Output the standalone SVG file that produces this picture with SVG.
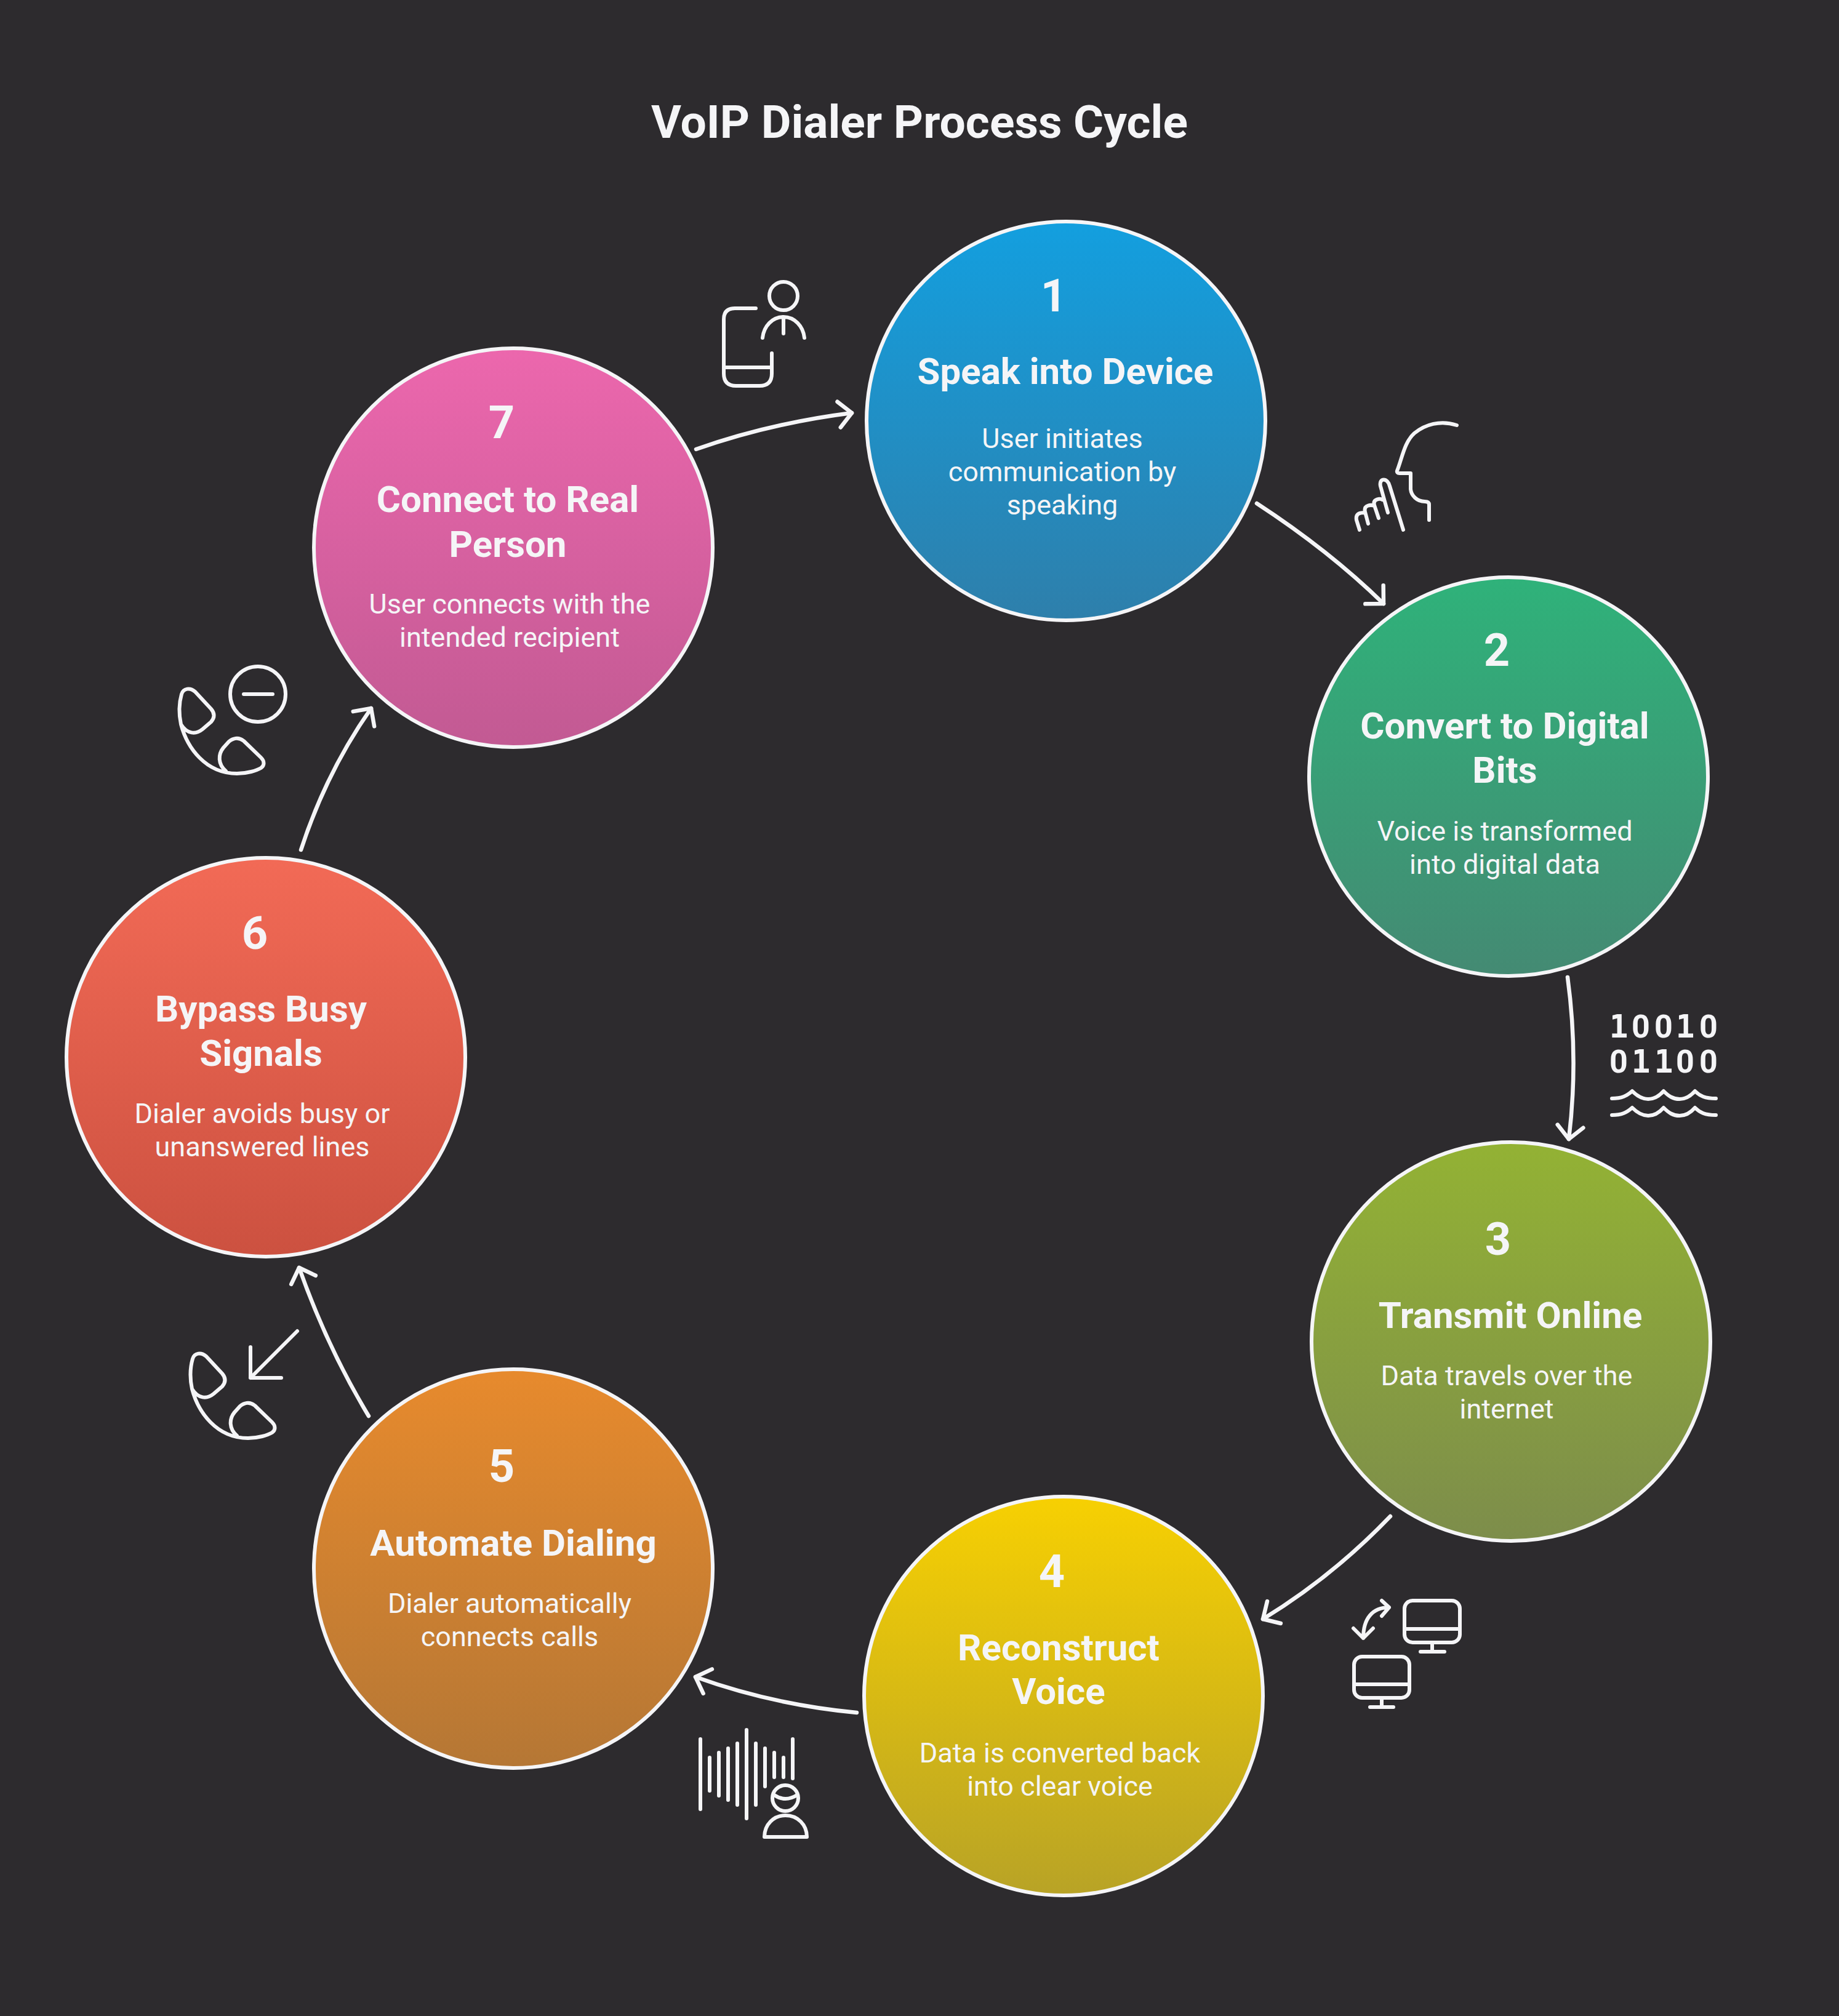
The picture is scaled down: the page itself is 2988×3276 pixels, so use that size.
<svg xmlns="http://www.w3.org/2000/svg" xmlns:xlink="http://www.w3.org/1999/xlink" width="2988" height="3276" viewBox="0 0 2988 3276">
<style>
text{font-family:Roboto,"Liberation Sans",sans-serif;fill:#f5f5f7;text-anchor:middle}
.t{font-size:75px;font-weight:700}
.n{font-size:74px;font-weight:700}
.h{font-size:60px;font-weight:700}
.d{font-size:45px;font-weight:400}
.c{stroke:#f5f5f7;stroke-width:6}
.l,.i{fill:none;stroke:#f5f5f7;stroke-width:6;stroke-linecap:round;stroke-linejoin:round}
.l{stroke-width:6.5}
.b{font-size:52px;font-weight:700}
.b1{font-family:"DejaVu Sans Mono",monospace;font-size:51px}
</style>
<defs>
<linearGradient id="g1" x1="0" y1="0" x2="0" y2="1"><stop offset="0" stop-color="#139fdf"/><stop offset="1" stop-color="#2e7fab"/></linearGradient>
<linearGradient id="g2" x1="0" y1="0" x2="0" y2="1"><stop offset="0" stop-color="#2fb27a"/><stop offset="1" stop-color="#448a73"/></linearGradient>
<linearGradient id="g3" x1="0" y1="0" x2="0" y2="1"><stop offset="0" stop-color="#93b234"/><stop offset="1" stop-color="#7d8d4b"/></linearGradient>
<linearGradient id="g4" x1="0" y1="0" x2="0" y2="1"><stop offset="0" stop-color="#f7d002"/><stop offset="1" stop-color="#b8a326"/></linearGradient>
<linearGradient id="g5" x1="0" y1="0" x2="0" y2="1"><stop offset="0" stop-color="#e78a2d"/><stop offset="1" stop-color="#b57735"/></linearGradient>
<linearGradient id="g6" x1="0" y1="0" x2="0" y2="1"><stop offset="0" stop-color="#f26a56"/><stop offset="1" stop-color="#cc5140"/></linearGradient>
<linearGradient id="g7" x1="0" y1="0" x2="0" y2="1"><stop offset="0" stop-color="#ec67ad"/><stop offset="1" stop-color="#c25a93"/></linearGradient>
<marker id="ah" markerUnits="userSpaceOnUse" markerWidth="80" markerHeight="80" refX="40" refY="40" orient="auto" overflow="visible"><path d="M19 19L40 40L19 61" fill="none" stroke="#f5f5f7" stroke-width="6.5" stroke-linecap="round" stroke-linejoin="round"/></marker>
<g id="phone"><path d="M312 2257C308 2238 309 2222 313 2208C316 2198 327 2197 335 2204L361 2232C367 2239 367 2246 361 2253L347 2265C336 2274 322 2273 312 2257C322 2295 352 2337 403 2337C420 2337 435 2332 442 2328C448 2324 448 2317 442 2311L414 2284C405 2277 396 2280 390 2285L381 2295C372 2306 372 2322 385 2333"/></g>
</defs>
<rect width="2988" height="3276" fill="#2d2b2e"/>
<text class="t" x="1494" y="224">VoIP Dialer Process Cycle</text>
<g id="connectors">
<path class="l" marker-end="url(#ah)" d="M1131 730Q1250 688 1384 671"/>
<path class="l" marker-end="url(#ah)" d="M2042 818Q2160 895 2248 981"/>
<path class="l" marker-end="url(#ah)" d="M2547 1588Q2565 1720 2549 1851"/>
<path class="l" marker-end="url(#ah)" d="M2259 2464Q2165 2562 2052 2631"/>
<path class="l" marker-end="url(#ah)" d="M1392 2783Q1255 2770 1130 2725"/>
<path class="l" marker-end="url(#ah)" d="M599 2301Q532 2190 486 2060"/>
<path class="l" marker-end="url(#ah)" d="M489 1381Q530 1255 603 1151"/>
</g>
<g id="node1"><circle class="c" cx="1732" cy="684" r="324" fill="url(#g1)"/>
<text class="n" x="1712" y="506">1</text><text class="h" x="1731" y="624">Speak into Device</text>
<text class="d" x="1726" y="728">User initiates</text><text class="d" x="1726" y="782">communication by</text><text class="d" x="1726" y="836">speaking</text></g>
<g id="node2"><circle class="c" cx="2451" cy="1262" r="324" fill="url(#g2)"/>
<text class="n" x="2432" y="1082">2</text><text class="h" x="2445" y="1200">Convert to Digital</text><text class="h" x="2445" y="1272">Bits</text>
<text class="d" x="2445" y="1366">Voice is transformed</text><text class="d" x="2445" y="1420">into digital data</text></g>
<g id="node3"><circle class="c" cx="2455" cy="2180" r="324" fill="url(#g3)"/>
<text class="n" x="2434" y="2039">3</text><text class="h" x="2454" y="2158">Transmit Online</text>
<text class="d" x="2448" y="2251">Data travels over the</text><text class="d" x="2448" y="2305">internet</text></g>
<g id="node4"><circle class="c" cx="1728" cy="2756" r="324" fill="url(#g4)"/>
<text class="n" x="1709" y="2579">4</text><text class="h" x="1720" y="2698">Reconstruct</text><text class="h" x="1720" y="2769">Voice</text>
<text class="d" x="1722" y="2864">Data is converted back</text><text class="d" x="1722" y="2918">into clear voice</text></g>
<g id="node5"><circle class="c" cx="834" cy="2549" r="324" fill="url(#g5)"/>
<text class="n" x="815" y="2408">5</text><text class="h" x="834" y="2528">Automate Dialing</text>
<text class="d" x="828" y="2621">Dialer automatically</text><text class="d" x="828" y="2675">connects calls</text></g>
<g id="node6"><circle class="c" cx="432" cy="1718" r="324" fill="url(#g6)"/>
<text class="n" x="414" y="1542">6</text><text class="h" x="424" y="1660">Bypass Busy</text><text class="h" x="424" y="1732">Signals</text>
<text class="d" x="426" y="1825">Dialer avoids busy or</text><text class="d" x="426" y="1879">unanswered lines</text></g>
<g id="node7"><circle class="c" cx="834" cy="890" r="324" fill="url(#g7)"/>
<text class="n" x="815" y="712">7</text><text class="h" x="825" y="832">Connect to Real</text><text class="h" x="825" y="905">Person</text>
<text class="d" x="828" y="997">User connects with the</text><text class="d" x="828" y="1051">intended recipient</text></g>
<g id="icon1" class="i"><circle cx="1273" cy="481" r="23"/><path d="M1239 549C1241 530 1255 515 1273 515C1291 515 1305 530 1307 549M1273 515V542M1228 501H1194Q1176 501 1176 519V607Q1176 627 1196 627H1234Q1254 627 1254 607V574M1176 597H1254"/></g>
<g id="icon2" class="i"><path d="M2367 691C2340 682 2315 690 2298 704C2282 718 2278 745 2270 765Q2269 769 2274 769H2292V795C2293 805 2302 815 2315 815Q2322 815 2322 820V845M2280 861L2258 790C2255 776 2240 776 2243 790L2255 833M2240 842L2233 821C2230 810 2243 810 2246 812M2223 851L2218 832C2215 820 2228 820 2233 822M2209 861L2204 845C2202 833 2212 833 2218 833"/></g>
<g id="icon3"><text class="b" y="1686"><tspan class="b1" x="2630">1</tspan><tspan x="2666">0</tspan><tspan x="2703">0</tspan><tspan class="b1" x="2738">1</tspan><tspan x="2776">0</tspan></text>
<text class="b" y="1743"><tspan x="2630">0</tspan><tspan class="b1" x="2666">1</tspan><tspan class="b1" x="2703">1</tspan><tspan x="2738">0</tspan><tspan x="2776">0</tspan></text>
<path class="i" d="M2619 1785C2635 1785 2643 1781 2652 1773C2660 1781 2668 1786 2678 1786C2689 1786 2696 1781 2703 1773C2711 1781 2718 1786 2729 1786C2740 1786 2747 1781 2754 1773C2762 1781 2770 1785 2788 1785M2619 1812C2635 1812 2643 1808 2652 1800C2660 1808 2668 1813 2678 1813C2689 1813 2696 1808 2703 1800C2711 1808 2718 1813 2729 1813C2740 1813 2747 1808 2754 1800C2762 1808 2770 1812 2788 1812"/></g>
<g id="icon4" class="i"><rect x="2282" y="2601" width="90" height="68" rx="13"/><path d="M2282 2647H2372M2327 2669V2684M2308 2684H2347"/><rect x="2200" y="2692" width="90" height="67" rx="13"/><path d="M2200 2737H2290M2245 2759V2774M2226 2774H2264M2257 2612C2230 2612 2215 2630 2215 2662M2245 2601L2257 2612L2245 2626M2199 2646L2215 2662L2231 2646"/></g>
<g id="icon5" class="i"><path d="M1138 2826V2940M1153 2856V2910M1168 2848V2918M1183 2841V2925M1198 2833V2933M1213 2811V2955M1228 2833V2933M1243 2841V2903M1258 2848V2888M1273 2856V2888M1288 2826V2890"/><circle cx="1276" cy="2922" r="21"/><path d="M1258 2917Q1276 2929 1295 2917M1242 2985C1242 2965 1257 2950 1276 2950C1296 2950 1311 2965 1311 2985Z"/></g>
<g id="icon6" class="i"><use xlink:href="#phone" href="#phone"/><path d="M483 2163L407 2239M407 2189V2239H457"/></g>
<g id="icon7" class="i"><use xlink:href="#phone" href="#phone" transform="translate(-18 -1080)"/><circle cx="419" cy="1128" r="45"/><path d="M396 1128H443"/></g>
</svg>
